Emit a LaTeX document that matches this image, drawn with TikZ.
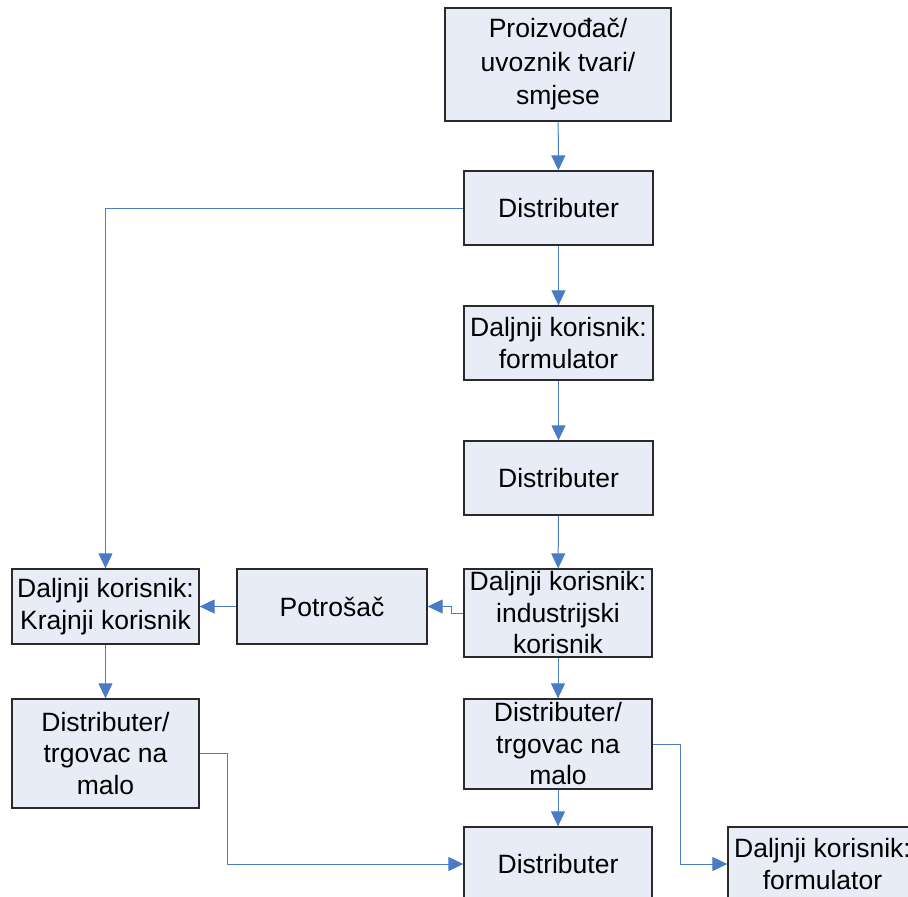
\documentclass[tikz,border=0pt]{standalone}
\usepackage{fontspec}
\setmainfont{Liberation Sans}
\usetikzlibrary{arrows.meta}
\definecolor{boxfill}{HTML}{E7ECF7}
\definecolor{conn}{HTML}{4A7CC6}
\definecolor{boxline}{HTML}{2A2A2A}
\tikzset{
  box/.style={draw=boxline, line width=1.3pt, fill=boxfill, align=center,
    inner sep=0pt, font=\fontsize{26.5}{31.5}\selectfont},
  conn/.style={draw=conn, line width=1pt, -{Triangle[length=15pt,width=14pt]}},
}
\begin{document}
\begin{tikzpicture}[x=1pt,y=-1pt]
\useasboundingbox (0,0) rectangle (908,897);
\clip (0,0) rectangle (908,897);
\node[box, minimum width=226pt, minimum height=113pt, font=\fontsize{26.5}{33.5}\selectfont] (top) at (558,64.5) {Proizvođač/\\uvoznik tvari/\\smjese};
\node[box, minimum width=189pt, minimum height=74pt] (d1) at (558.5,208) {Distributer};
\node[box, minimum width=189pt, minimum height=74pt] (f1) at (558.5,343) {Daljnji korisnik:\\formulator};
\node[box, minimum width=189pt, minimum height=74pt] (d2) at (558.5,478) {Distributer};
\node[box, minimum width=188pt, minimum height=88pt] (ind) at (558,613) {Daljnji korisnik:\\industrijski\\korisnik};
\node[box, minimum width=190pt, minimum height=75pt] (pot) at (332,606.5) {Potrošač};
\node[box, minimum width=187pt, minimum height=75pt] (kraj) at (105.5,606.5) {Daljnji korisnik:\\Krajnji korisnik};
\node[box, minimum width=187pt, minimum height=109pt] (trgl) at (105.5,753.5) {Distributer/\\trgovac na\\malo};
\node[box, minimum width=188pt, minimum height=90pt] (trgr) at (558,744) {Distributer/\\trgovac na\\malo};
\node[box, minimum width=188pt, minimum height=74pt] (dbot) at (558,864) {Distributer};
\node[box, minimum width=189pt, minimum height=74pt] (fbot) at (822.5,864) {Daljnji korisnik:\\formulator};

\draw[conn] (top) -- (d1);
\draw[conn] (d1) -- (f1);
\draw[conn] (f1) -- (d2);
\draw[conn] (d2) -- (ind);
\draw[conn] (ind) -- (trgr);
\draw[conn] (trgr) -- (dbot);
\draw[conn] (kraj) -- (trgl);
\draw[conn] (pot) -- (kraj);
\draw[conn] (ind.west) -- ++(-12,0) |- (pot.east);
\draw[conn] (d1.west) -| (kraj.north);
\draw[conn] (trgl.east) -- (227,753.5) |- (dbot.west);
\draw[conn] (trgr.east) -- (680,744) |- (fbot.west);
\end{tikzpicture}
\end{document}
